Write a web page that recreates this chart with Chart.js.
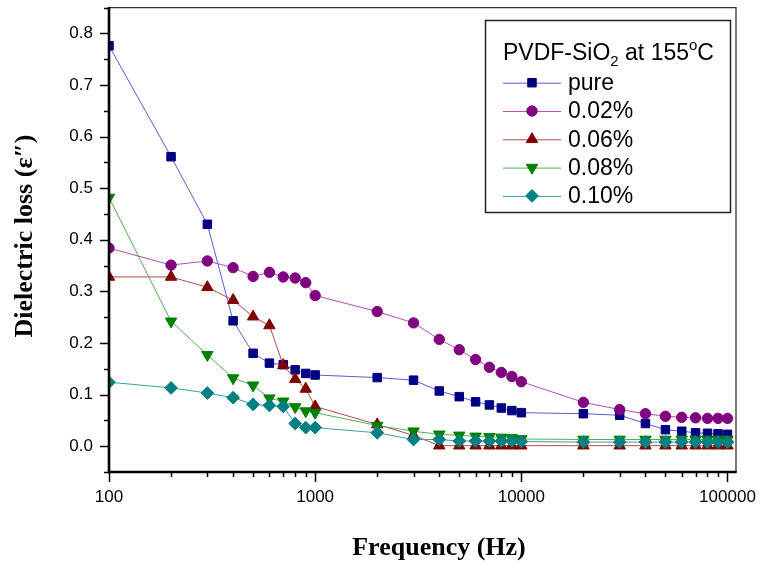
<!DOCTYPE html>
<html>
<head>
<meta charset="utf-8">
<script src="https://cdn.jsdelivr.net/npm/chart.js@4/dist/chart.umd.min.js"></script>
<style>
  html, body { margin: 0; padding: 0; background: #fff; }
  #wrap { width: 761px; height: 565px; }
</style>
</head>
<body>
<div id="wrap"><canvas id="c" width="761" height="565"></canvas></div>
<script>
// Frequencies (Hz) at which dielectric loss was measured
const frequencies = [100, 200, 300, 400, 500, 600, 700, 800, 900, 1000,
  2000, 3000, 4000, 5000, 6000, 7000, 8000, 9000, 10000,
  20000, 30000, 40000, 50000, 60000, 70000, 80000, 90000, 100000];

// Dielectric loss ε″ for each SiO2 loading
const pure = [0.776, 0.561, 0.430, 0.243, 0.180, 0.161, 0.158, 0.148, 0.141, 0.138,
  0.133, 0.128, 0.107, 0.096, 0.086, 0.080, 0.074, 0.069, 0.065,
  0.063, 0.060, 0.044, 0.032, 0.029, 0.026, 0.025, 0.024, 0.023];
const sio2_002 = [0.384, 0.351, 0.359, 0.346, 0.329, 0.337, 0.328, 0.326, 0.317, 0.292,
  0.261, 0.239, 0.207, 0.187, 0.168, 0.153, 0.143, 0.135, 0.125,
  0.085, 0.071, 0.063, 0.058, 0.056, 0.055, 0.054, 0.054, 0.054];
const sio2_006 = [0.328, 0.328, 0.308, 0.283, 0.251, 0.234, 0.157, 0.130, 0.111, 0.077,
  0.042, 0.021, 0.001, 0.001, 0.001, 0.001, 0.001, 0.001, 0.001,
  0.001, 0.001, 0.001, 0.001, 0.001, 0.001, 0.001, 0.001, 0.001];
const sio2_008 = [0.482, 0.242, 0.177, 0.132, 0.118, 0.093, 0.087, 0.076, 0.068, 0.065,
  0.040, 0.029, 0.023, 0.021, 0.019, 0.018, 0.017, 0.016, 0.014,
  0.013, 0.013, 0.013, 0.013, 0.013, 0.013, 0.013, 0.013, 0.013];
const sio2_010 = [0.124, 0.113, 0.103, 0.094, 0.081, 0.079, 0.077, 0.044, 0.036, 0.036,
  0.026, 0.013, 0.013, 0.010, 0.010, 0.010, 0.010, 0.010, 0.009,
  0.008, 0.008, 0.008, 0.008, 0.008, 0.008, 0.008, 0.008, 0.008];

const seriesNames = ['pure', '0.02%', '0.06%', '0.08%', '0.10%'];
const yTickValues = [0.0, 0.1, 0.2, 0.3, 0.4, 0.5, 0.6, 0.7, 0.8];
const xTickValues = [100, 1000, 10000, 100000];

const styles = [
  { marker: '#000080', line: '#5a5ad0', shape: 'square',   radius: 6,   rot: 0 },
  { marker: '#800080', line: '#b050b0', shape: 'circle',   radius: 5.2, rot: 0 },
  { marker: '#800000', line: '#b04a4a', shape: 'triangle', radius: 6.6, rot: 0 },
  { marker: '#008000', line: '#50b050', shape: 'triangle', radius: 6.6, rot: 180 },
  { marker: '#008080', line: '#3aa0a0', shape: 'rectRot',  radius: 6.4, rot: 0 }
];
const seriesValues = [pure, sio2_002, sio2_006, sio2_008, sio2_010];

const datasets = seriesValues.map((vals, i) => ({
  label: seriesNames[i],
  data: frequencies.map((f, k) => ({ x: f, y: vals[k] })),
  borderColor: styles[i].line,
  backgroundColor: styles[i].marker,
  borderWidth: 1,
  pointStyle: styles[i].shape === 'square' ? 'rect' : styles[i].shape,
  pointRotation: styles[i].rot,
  pointRadius: styles[i].radius,
  pointHoverRadius: styles[i].radius,
  pointBackgroundColor: styles[i].marker,
  pointBorderColor: styles[i].marker,
  pointBorderWidth: 1,
  tension: 0,
  fill: false,
  order: seriesValues.length - i
}));

function drawMarker(ctx, shape, r, rot, x, y, color) {
  ctx.save();
  ctx.fillStyle = color;
  ctx.strokeStyle = color;
  ctx.lineWidth = 1;
  ctx.beginPath();
  if (shape === 'square') {
    const s = Math.SQRT1_2 * r;
    ctx.rect(x - s, y - s, 2 * s, 2 * s);
  } else if (shape === 'circle') {
    ctx.arc(x, y, r, 0, Math.PI * 2);
  } else if (shape === 'triangle') {
    let a = rot * Math.PI / 180;
    ctx.moveTo(x + Math.sin(a) * r, y - Math.cos(a) * r);
    a += 2 * Math.PI / 3;
    ctx.lineTo(x + Math.sin(a) * r, y - Math.cos(a) * r);
    a += 2 * Math.PI / 3;
    ctx.lineTo(x + Math.sin(a) * r, y - Math.cos(a) * r);
  } else if (shape === 'rectRot') {
    ctx.moveTo(x, y - r); ctx.lineTo(x + r, y); ctx.lineTo(x, y + r); ctx.lineTo(x - r, y);
  }
  ctx.closePath();
  ctx.fill();
  ctx.stroke();
  ctx.restore();
}

// Frame, ticks, legend and axis titles
const decorations = {
  id: 'decorations',
  afterDraw(chart) {
    const { ctx, chartArea: { left, right, top, bottom }, scales: { x, y } } = chart;
    ctx.save();

    // thin top and right frame
    ctx.strokeStyle = '#333';
    ctx.lineWidth = 1.3;
    ctx.beginPath();
    ctx.moveTo(left, top);
    ctx.lineTo(right, top);
    ctx.lineTo(right, bottom);
    ctx.stroke();

    // ticks
    ctx.strokeStyle = '#000';
    ctx.lineWidth = 1.5;
    for (let k = -1; k <= 17; k++) {
      const v = k * 0.05;
      const py = Math.round(y.getPixelForValue(v)) + 0.5;
      const len = (k % 2 === 0) ? 9 : 5;
      ctx.beginPath();
      ctx.moveTo(left, py);
      ctx.lineTo(left - len, py);
      ctx.stroke();
    }
    for (let d = 100; d <= 100000; d *= 10) {
      for (let m = 1; m <= 9; m++) {
        const v = d * m;
        if (v > 100000) break;
        const px = Math.round(x.getPixelForValue(v)) + 0.5;
        const len = m === 1 ? 10 : 5;
        ctx.beginPath();
        ctx.moveTo(px, bottom);
        ctx.lineTo(px, bottom + len);
        ctx.stroke();
      }
    }

    // thick left and bottom axes
    ctx.lineWidth = 2.6;
    ctx.beginPath();
    ctx.moveTo(left, top - 0.7);
    ctx.lineTo(left, bottom);
    ctx.lineTo(right + 0.7, bottom);
    ctx.stroke();

    // legend box
    const bx = 485.5, by = 20.5, bw = 245, bh = 192;
    ctx.fillStyle = '#fff';
    ctx.fillRect(bx, by, bw, bh);
    ctx.strokeStyle = '#222';
    ctx.lineWidth = 1.5;
    ctx.strokeRect(bx, by, bw, bh);

    // legend title with sub- and superscript
    ctx.fillStyle = '#000';
    ctx.textAlign = 'left';
    ctx.textBaseline = 'alphabetic';
    const fs = 23;
    const big = fs + 'px "Liberation Sans", Arial, sans-serif';
    const small = Math.round(fs * 0.66) + 'px "Liberation Sans", Arial, sans-serif';
    let tx = 503;
    const tb = 59.5;
    const parts = [
      ['PVDF-SiO', big, 0],
      ['2', small, 6],
      [' at 155', big, 0],
      ['o', small, -10],
      ['C', big, 0]
    ];
    for (const [t, f, dy] of parts) {
      ctx.font = f;
      ctx.fillText(t, tx, tb + dy);
      tx += ctx.measureText(t).width;
    }

    // legend entries
    ctx.font = big;
    ctx.textBaseline = 'middle';
    const rowY = [82.7, 111, 139.3, 167.6, 195.9];
    styles.forEach((s, i) => {
      const ry = rowY[i];
      ctx.strokeStyle = s.line;
      ctx.lineWidth = 1;
      ctx.beginPath();
      ctx.moveTo(503, ry + 0.5);
      ctx.lineTo(561, ry + 0.5);
      ctx.stroke();
      drawMarker(ctx, s.shape, s.radius, s.rot, 532, ry, s.marker);
      ctx.fillStyle = '#000';
      ctx.fillText(seriesNames[i], 568, ry + 1);
    });

    // axis titles
    ctx.font = 'bold 26px "Liberation Serif", "Times New Roman", serif';
    ctx.textAlign = 'center';
    ctx.textBaseline = 'middle';
    ctx.fillStyle = '#000';
    ctx.fillText('Frequency (Hz)', 439, 548);
    ctx.save();
    ctx.translate(25, 236);
    ctx.rotate(-Math.PI / 2);
    ctx.fillText('Dielectric loss (\u03B5\u2033)', 0, 0);
    ctx.restore();

    ctx.restore();
  }
};

const tickFont = { family: '"Liberation Sans", Arial, sans-serif', size: 17 };

new Chart(document.getElementById('c'), {
  type: 'line',
  data: { datasets },
  options: {
    responsive: false,
    devicePixelRatio: 1,
    animation: false,
    events: [],
    layout: { padding: { left: 0, right: 25, top: 5, bottom: 0 } },
    plugins: { legend: { display: false }, tooltip: { enabled: false }, title: { display: false } },
    scales: {
      x: {
        type: 'logarithmic',
        min: 100,
        max: 110000,
        afterFit: s => { s.height = 93; s.paddingLeft = 0; s.paddingRight = 0; },
        afterBuildTicks: s => { s.ticks = xTickValues.map(v => ({ value: v })); },
        ticks: {
          callback: v => String(v),
          autoSkip: false,
          maxRotation: 0,
          font: tickFont,
          color: '#000',
          padding: 15
        },
        grid: { display: false, drawTicks: false },
        border: { display: false }
      },
      y: {
        type: 'linear',
        min: -0.05,
        max: 0.85,
        afterFit: s => { s.width = 109; s.paddingTop = 0; s.paddingBottom = 0; },
        afterBuildTicks: s => { s.ticks = yTickValues.map(v => ({ value: v })); },
        ticks: {
          callback: v => Number(v).toFixed(1),
          font: tickFont,
          color: '#000',
          padding: 16
        },
        grid: { display: false, drawTicks: false },
        border: { display: false }
      }
    }
  },
  plugins: [decorations]
});
</script>
</body>
</html>
